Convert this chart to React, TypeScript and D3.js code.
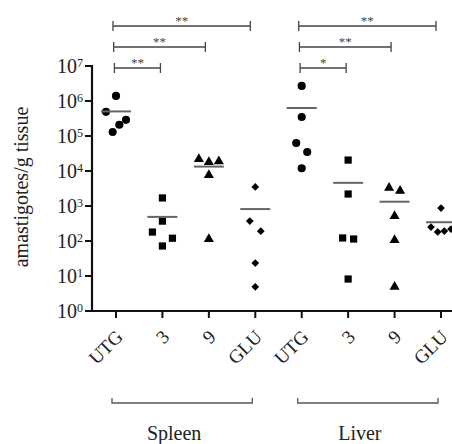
import React from "react";
import * as d3 from "d3";

const tissues = ["Spleen", "Liver"];
const groups = ["UTG", "3", "9", "GLU"];
const yTickExps = [0, 1, 2, 3, 4, 5, 6, 7];

const spleenUTG = [1.4e6, 4.9e5, 2.9e5, 2.1e5, 1.3e5];
const spleen3 = [1700, 370, 180, 120, 72];
const spleen9 = [22000, 19000, 18000, 7700, 114];
const spleenGLU = [3500, 370, 190, 23.5, 4.9];
const liverUTG = [2.7e6, 3.5e5, 6.3e4, 3.5e4, 1.2e4];
const liver3 = [20500, 2200, 122, 114, 8.2];
const liver9 = [3300, 2700, 515, 107, 4.9];
const liverGLU = [875, 251, 220, 193, 181];

const seriesValues = [
  spleenUTG, spleen3, spleen9, spleenGLU,
  liverUTG, liver3, liver9, liverGLU,
];

// significance comparisons: [tissue, from group, to group, label]
const comparisons: [string, string, string, string][] = [
  ["Spleen", "UTG", "GLU", "**"],
  ["Spleen", "UTG", "9", "**"],
  ["Spleen", "UTG", "3", "**"],
  ["Liver", "UTG", "GLU", "**"],
  ["Liver", "UTG", "9", "**"],
  ["Liver", "UTG", "3", "*"],
];

const W = 452;
const H = 444;
const axisX = 92;
const axisY = 311;

const keys = tissues.flatMap((t) => groups.map((g) => `${t}-${g}`));
const x = d3.scalePoint<string>().domain(keys).range([116, 441]);
const y = d3.scaleLog().domain([1, 1e7]).range([axisY, 66]);

const shapeFor: Record<string, d3.SymbolType> = {
  UTG: d3.symbolCircle,
  "3": d3.symbolSquare,
  "9": d3.symbolTriangle,
  GLU: d3.symbolSquare,
};
const sizeFor: Record<string, number> = { UTG: 52, "3": 52, "9": 44, GLU: 30 };

// spread points whose vertical positions are close (scatter-dot-plot style)
function spread(vals: number[], cx: number) {
  const ys = vals.map((v) => y(v)).sort((a, b) => a - b);
  const clusters: number[][] = [];
  for (const py of ys) {
    const last = clusters[clusters.length - 1];
    if (last && py - last[last.length - 1] < 10.5) last.push(py);
    else clusters.push([py]);
  }
  const out: { x: number; y: number }[] = [];
  for (const c of clusters) {
    const n = c.length;
    const step = n > 1 ? Math.min(11, 20 / (n - 1)) : 0;
    const slots = n > 1 ? [0, ...d3.range(n - 1, 0, -1)] : [0];
    c.forEach((py, i) => {
      out.push({ x: cx + (slots[i] - (n - 1) / 2) * step, y: py });
    });
  }
  return out;
}

const serif = "'Liberation Serif', 'Times New Roman', Times, serif";
const tx: React.CSSProperties = { fontFamily: serif };

export default function App() {
  return (
    <svg
      width={W}
      height={H}
      style={{ position: "absolute", left: 0, top: 0, background: "#fff", fontFamily: serif }}
    >
      <rect width={W} height={H} fill="#fff" />
      {/* y axis label */}
      <text
        transform={`translate(28, 187) rotate(-90)`}
        textAnchor="middle"
        fontSize={20}
        fill="#222"
        style={tx}
      >
        amastigotes/g tissue
      </text>

      {/* axes */}
      <line x1={axisX} x2={axisX} y1={y(1e7) - 1} y2={axisY + 1} stroke="#111" strokeWidth={2.2} />
      <line x1={axisX - 1} x2={W} y1={axisY} y2={axisY} stroke="#111" strokeWidth={2.2} />
      {yTickExps.map((e) => (
        <g key={e}>
          <line x1={axisX - 7} x2={axisX} y1={y(Math.pow(10, e))} y2={y(Math.pow(10, e))} stroke="#111" strokeWidth={2} />
          <text x={83} y={y(Math.pow(10, e)) + 7} textAnchor="end" fontSize={20} fill="#222" style={tx}>
            10
            <tspan dy={-6} fontSize={12}>{e}</tspan>
          </text>
        </g>
      ))}
      {keys.map((k, i) => (
        <g key={k}>
          <line x1={x(k)} x2={x(k)} y1={axisY} y2={axisY + 7} stroke="#111" strokeWidth={2} />
          <text
            transform={`translate(${(x(k) as number) + 8}, 338) rotate(-45)`}
            textAnchor="end"
            fontSize={19}
            fill="#222"
            style={tx}
          >
            {groups[i % groups.length]}
          </text>
        </g>
      ))}

      {/* points and means */}
      {keys.map((k, i) => {
        const vals = seriesValues[i];
        const g = groups[i % groups.length];
        const cx = x(k) as number;
        const pts = spread(vals, cx);
        const sym = d3.symbol().type(shapeFor[g]).size(sizeFor[g])();
        const m = d3.mean(vals) as number;
        return (
          <g key={k}>
            {pts.map((p, j) => (
              <path
                key={j}
                d={sym as string}
                transform={`translate(${p.x}, ${p.y})${g === "GLU" ? " rotate(45)" : ""}`}
                fill="#000"
              />
            ))}
            <line x1={cx - 15} x2={cx + 15} y1={y(m)} y2={y(m)} stroke="#666" strokeWidth={2} />
          </g>
        );
      })}

      {/* significance brackets */}
      {comparisons.map(([t, a, b, lab], i) => {
        const level = i % 3;
        const yy = 26 + level * 21;
        const x1 = (x(`${t}-${a}`) as number) - 3 + level * 0.7;
        const x2 = (x(`${t}-${b}`) as number) - 5 + level * 1.5;
        return (
          <g key={i} stroke="#444" strokeWidth={1.3}>
            <line x1={x1} x2={x2} y1={yy} y2={yy} />
            <line x1={x1} x2={x1} y1={yy - 5} y2={yy + 5} />
            <line x1={x2} x2={x2} y1={yy - 5} y2={yy + 5} />
            <text x={(x1 + x2) / 2} y={yy - 1} textAnchor="middle" fontSize={13} fill="#444" stroke="none" style={tx}>
              {lab}
            </text>
          </g>
        );
      })}

      {/* tissue brackets */}
      {tissues.map((t) => {
        const x1 = (x(`${t}-UTG`) as number) - 4;
        const x2 = (x(`${t}-GLU`) as number) - 3;
        const yy = 403;
        return (
          <g key={t}>
            <path d={`M${x1},${yy - 5}V${yy}H${x2}V${yy - 5}`} fill="none" stroke="#555" strokeWidth={1.3} />
            <text x={(x1 + x2) / 2 - 8} y={440} textAnchor="middle" fontSize={20} fill="#222" style={tx}>
              {t}
            </text>
          </g>
        );
      })}
    </svg>
  );
}
